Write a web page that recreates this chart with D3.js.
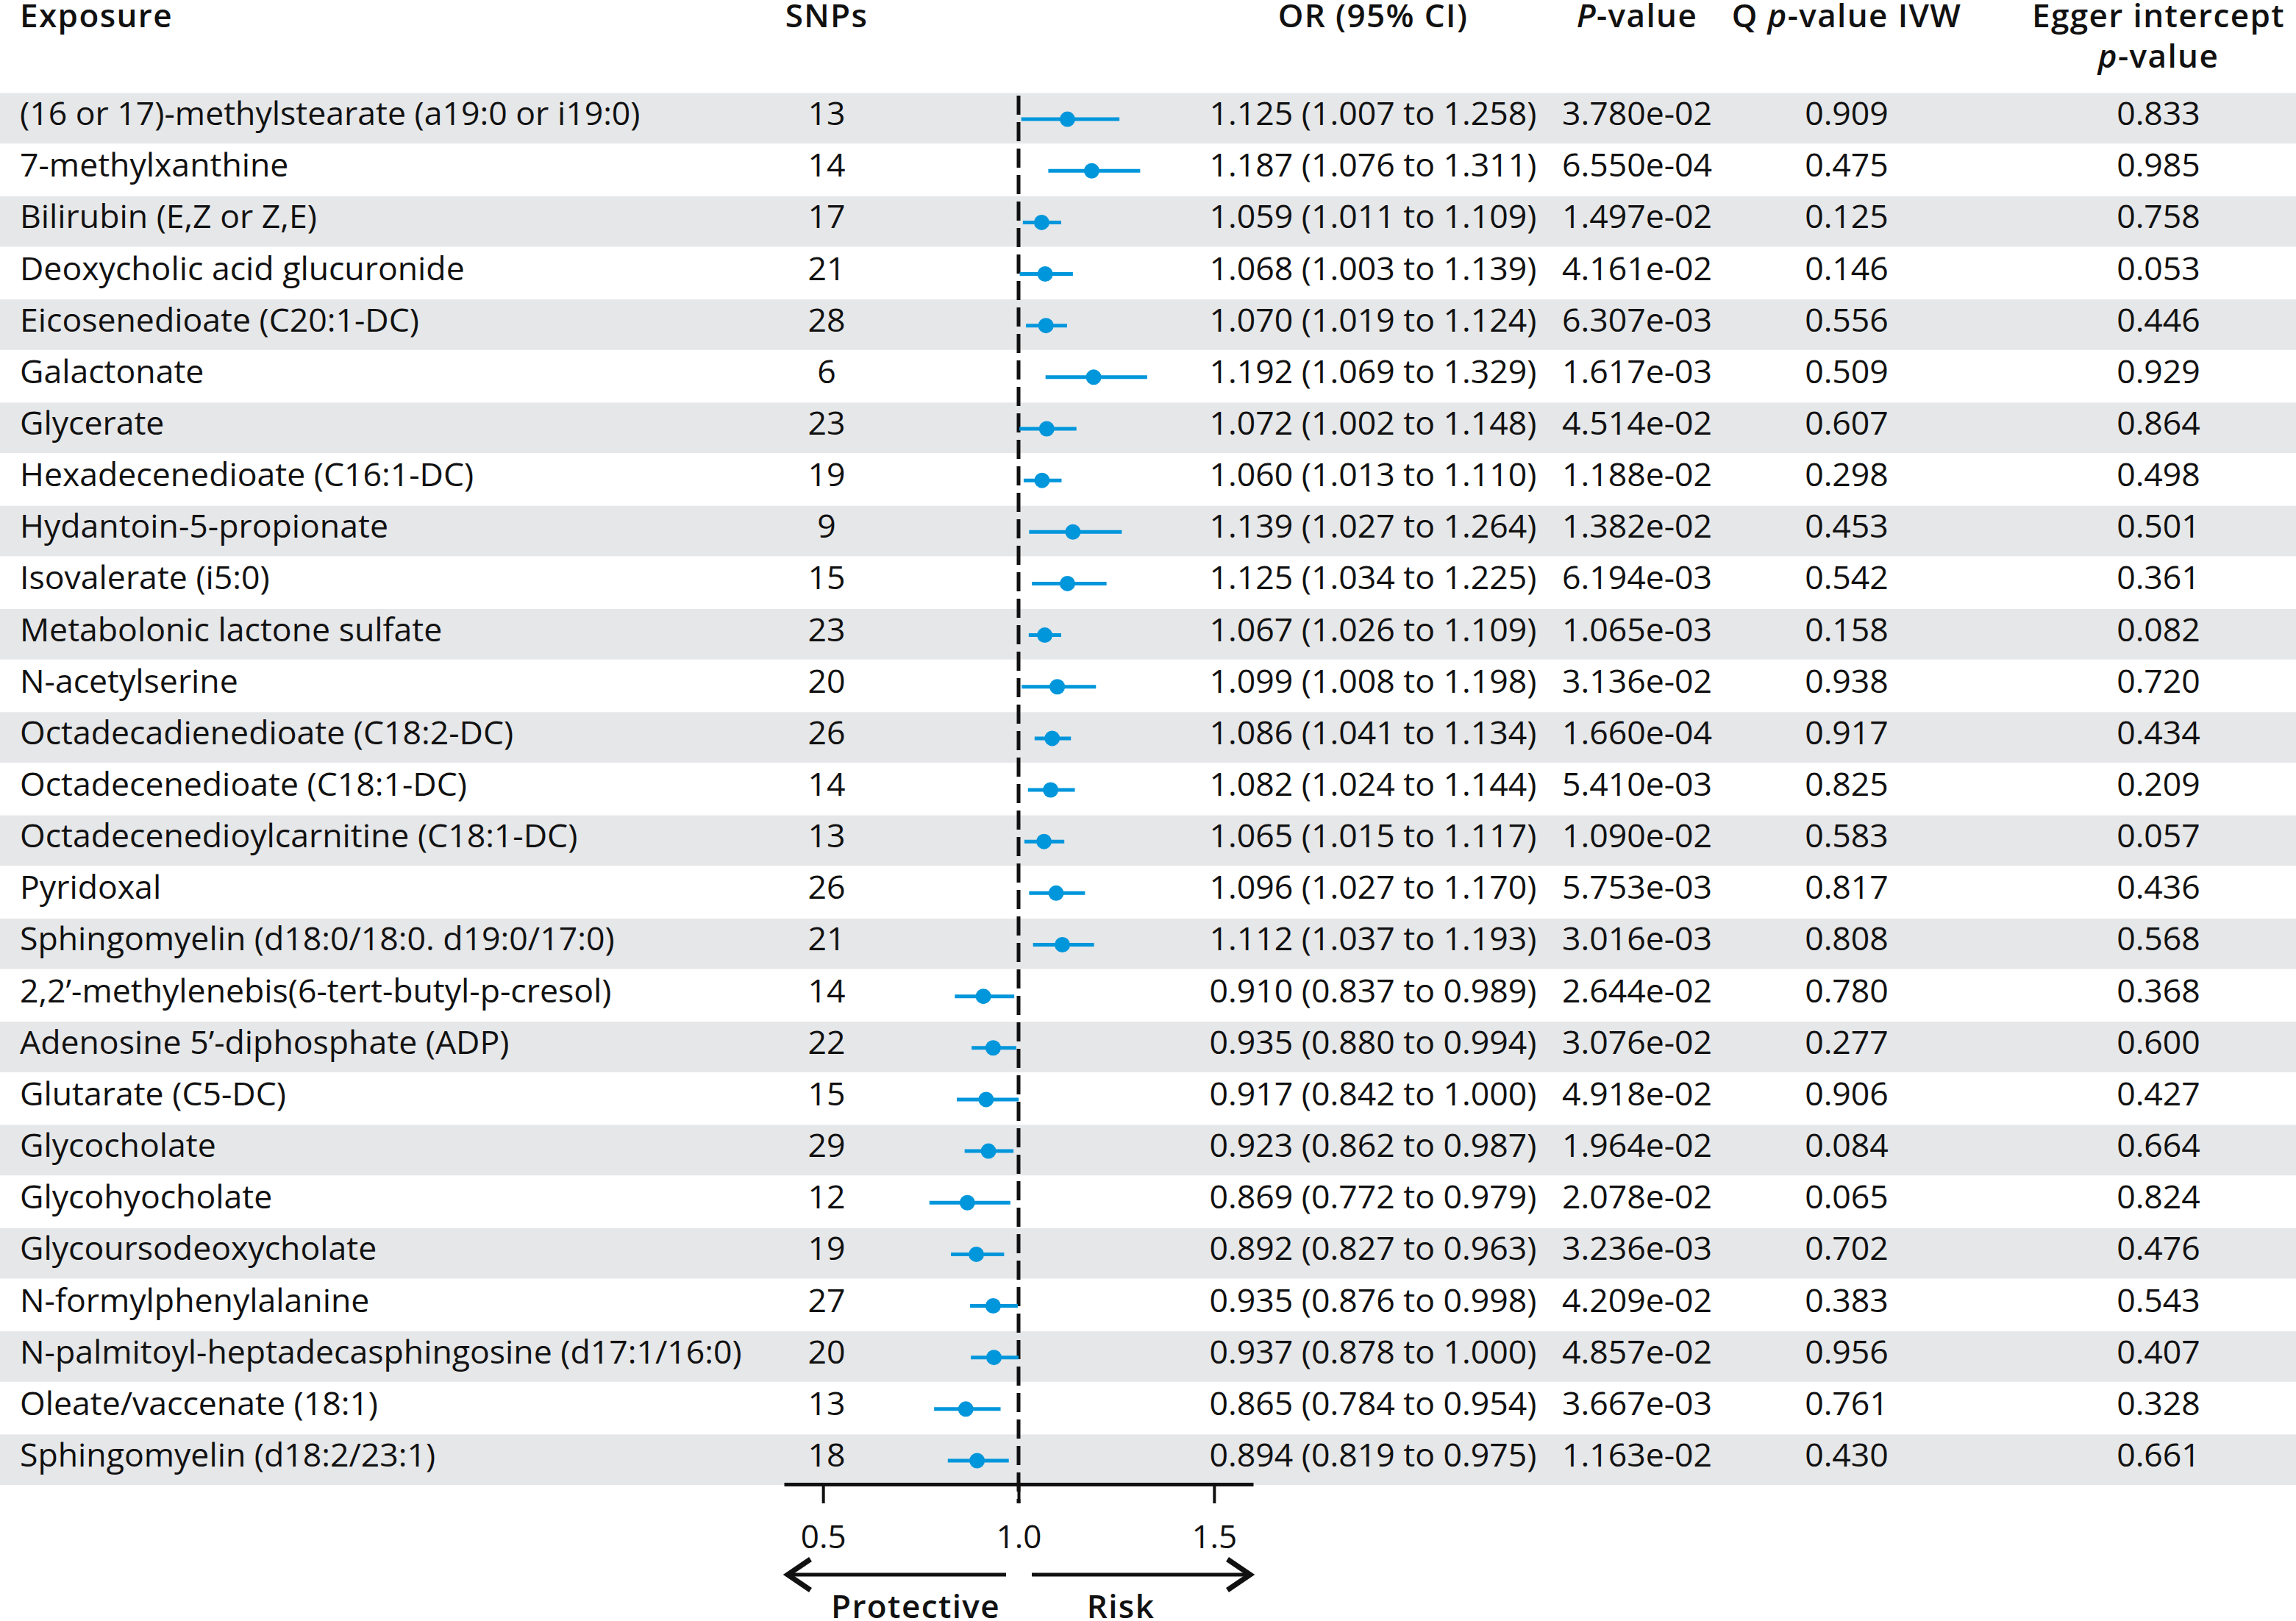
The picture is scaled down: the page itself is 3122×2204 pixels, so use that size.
<!DOCTYPE html>
<html>
<head>
<meta charset="utf-8">
<script src="https://cdn.jsdelivr.net/npm/d3@7/dist/d3.min.js"></script>
<style>
  body { margin: 0; background: #fff; }
  svg { display: block; font-family: "Open Sans", "Noto Sans", sans-serif; }
  .cell { font-size: 44.6px; fill: #111; }
  .head { font-size: 44px; font-weight: 600; letter-spacing: 1.4px; fill: #111; }
</style>
</head>
<body>
<svg id="chart" width="3122" height="2204"></svg>
<script>
// Table data, one entry per exposure (top to bottom)
const exposures = [
  "(16 or 17)-methylstearate (a19:0 or i19:0)", "7-methylxanthine", "Bilirubin (E,Z or Z,E)",
  "Deoxycholic acid glucuronide", "Eicosenedioate (C20:1-DC)", "Galactonate", "Glycerate",
  "Hexadecenedioate (C16:1-DC)", "Hydantoin-5-propionate", "Isovalerate (i5:0)",
  "Metabolonic lactone sulfate", "N-acetylserine", "Octadecadienedioate (C18:2-DC)",
  "Octadecenedioate (C18:1-DC)", "Octadecenedioylcarnitine (C18:1-DC)", "Pyridoxal",
  "Sphingomyelin (d18:0/18:0. d19:0/17:0)", "2,2\u2019-methylenebis(6-tert-butyl-p-cresol)",
  "Adenosine 5\u2019-diphosphate (ADP)", "Glutarate (C5-DC)", "Glycocholate", "Glycohyocholate",
  "Glycoursodeoxycholate", "N-formylphenylalanine", "N-palmitoyl-heptadecasphingosine (d17:1/16:0)",
  "Oleate/vaccenate (18:1)", "Sphingomyelin (d18:2/23:1)"
];
const snps = [13, 14, 17, 21, 28, 6, 23, 19, 9, 15, 23, 20, 26, 14, 13, 26, 21, 14, 22, 15, 29, 12, 19, 27, 20, 13, 18];
const orValues = [1.125, 1.187, 1.059, 1.068, 1.070, 1.192, 1.072, 1.060, 1.139, 1.125, 1.067, 1.099, 1.086, 1.082,
  1.065, 1.096, 1.112, 0.910, 0.935, 0.917, 0.923, 0.869, 0.892, 0.935, 0.937, 0.865, 0.894];
const ciLow = [1.007, 1.076, 1.011, 1.003, 1.019, 1.069, 1.002, 1.013, 1.027, 1.034, 1.026, 1.008, 1.041, 1.024,
  1.015, 1.027, 1.037, 0.837, 0.880, 0.842, 0.862, 0.772, 0.827, 0.876, 0.878, 0.784, 0.819];
const ciHigh = [1.258, 1.311, 1.109, 1.139, 1.124, 1.329, 1.148, 1.110, 1.264, 1.225, 1.109, 1.198, 1.134, 1.144,
  1.117, 1.170, 1.193, 0.989, 0.994, 1.000, 0.987, 0.979, 0.963, 0.998, 1.000, 0.954, 0.975];
const pValues = ["3.780e-02", "6.550e-04", "1.497e-02", "4.161e-02", "6.307e-03", "1.617e-03", "4.514e-02",
  "1.188e-02", "1.382e-02", "6.194e-03", "1.065e-03", "3.136e-02", "1.660e-04", "5.410e-03", "1.090e-02",
  "5.753e-03", "3.016e-03", "2.644e-02", "3.076e-02", "4.918e-02", "1.964e-02", "2.078e-02", "3.236e-03",
  "4.209e-02", "4.857e-02", "3.667e-03", "1.163e-02"];
const qIvw = ["0.909", "0.475", "0.125", "0.146", "0.556", "0.509", "0.607", "0.298", "0.453", "0.542", "0.158",
  "0.938", "0.917", "0.825", "0.583", "0.817", "0.808", "0.780", "0.277", "0.906", "0.084", "0.065", "0.702",
  "0.383", "0.956", "0.761", "0.430"];
const eggerP = ["0.833", "0.985", "0.758", "0.053", "0.446", "0.929", "0.864", "0.498", "0.501", "0.361", "0.082",
  "0.720", "0.434", "0.209", "0.057", "0.436", "0.568", "0.368", "0.600", "0.427", "0.664", "0.824", "0.476",
  "0.543", "0.407", "0.328", "0.661"];
const axisTicks = [0.5, 1.0, 1.5];

const W = 3122;
const BLUE = "#0096db";
const BAND = "#e6e7e9";

const rows = exposures.map((name, i) => ({
  name, snp: snps[i], or: orValues[i], lo: ciLow[i], hi: ciHigh[i],
  p: pValues[i], q: qIvw[i], egger: eggerP[i], idx: i
}));

const svg = d3.select("#chart");

const x = d3.scaleLinear().domain([0.4, 1.6]).range([1066, 1704]);
const y = d3.scaleBand().domain(exposures).range([126, 126 + 70.15 * exposures.length]);
const mid = d => y(d.name) + y.bandwidth() / 2;
const fmt3 = d3.format(".3f");

// column centres
const col = { name: 27, snp: 1124, or: 1867, p: 2226, q: 2511, egger: 2935 };

// alternating row bands
svg.append("g").selectAll("rect")
  .data(rows.filter(d => d.idx % 2 === 0))
  .join("rect")
  .attr("x", 0).attr("width", W)
  .attr("y", d => y(d.name) + 0.5)
  .attr("height", y.bandwidth() - 1.5)
  .attr("fill", BAND);

// header
const head = svg.append("g").attr("class", "head");
head.append("text").attr("x", col.name).attr("y", 37).text("Exposure");
head.append("text").attr("x", col.snp).attr("y", 37).attr("text-anchor", "middle").text("SNPs");
head.append("text").attr("x", col.or).attr("y", 37).attr("text-anchor", "middle").text("OR (95% CI)");
const ph = head.append("text").attr("x", col.p).attr("y", 37).attr("text-anchor", "middle");
ph.append("tspan").attr("font-style", "italic").text("P");
ph.append("tspan").text("-value");
const qh = head.append("text").attr("x", col.q).attr("y", 37).attr("text-anchor", "middle");
qh.append("tspan").text("Q ");
qh.append("tspan").attr("font-style", "italic").text("p");
qh.append("tspan").text("-value IVW");
head.append("text").attr("x", col.egger).attr("y", 37).attr("text-anchor", "middle").text("Egger intercept");
const eh = head.append("text").attr("x", col.egger).attr("y", 92).attr("text-anchor", "middle");
eh.append("tspan").attr("font-style", "italic").text("p");
eh.append("tspan").text("-value");

// table cells
const cells = svg.append("g").attr("class", "cell").selectAll("g")
  .data(rows).join("g")
  .attr("transform", d => `translate(0,${mid(d) + 9})`);
cells.append("text").attr("x", col.name).text(d => d.name);
cells.append("text").attr("x", col.snp).attr("text-anchor", "middle").text(d => d.snp);
cells.append("text").attr("x", col.or).attr("text-anchor", "middle")
  .text(d => `${fmt3(d.or)} (${fmt3(d.lo)} to ${fmt3(d.hi)})`);
cells.append("text").attr("x", col.p).attr("text-anchor", "middle").text(d => d.p);
cells.append("text").attr("x", col.q).attr("text-anchor", "middle").text(d => d.q);
cells.append("text").attr("x", col.egger).attr("text-anchor", "middle").text(d => d.egger);

// x axis
const axisY = y.range()[1] - 2;
const axis = svg.append("g")
  .attr("transform", `translate(0,${axisY})`)
  .call(d3.axisBottom(x).tickValues(axisTicks).tickFormat(d3.format(".1f"))
    .tickSize(26).tickSizeOuter(0).tickPadding(30));
axis.select(".domain").attr("stroke", "#111").attr("stroke-width", 5);
axis.selectAll(".tick line").attr("stroke", "#111").attr("stroke-width", 4);
axis.selectAll(".tick text").attr("font-size", 44).attr("fill", "#111")
  .attr("font-family", "\"Open Sans\", \"Noto Sans\", sans-serif");

// reference line at OR = 1
svg.append("line")
  .attr("x1", x(1)).attr("x2", x(1))
  .attr("y1", y.range()[0] + 4).attr("y2", axisY + 26)
  .attr("stroke", "#111").attr("stroke-width", 5)
  .attr("stroke-dasharray", "26,10");

// CI lines and points
const marks = svg.append("g").selectAll("g").data(rows).join("g");
marks.append("line")
  .attr("x1", d => x(d.lo)).attr("x2", d => x(d.hi))
  .attr("y1", d => mid(d) + 1).attr("y2", d => mid(d) + 1)
  .attr("stroke", BLUE).attr("stroke-width", 5);
marks.append("circle")
  .attr("cx", d => x(d.or)).attr("cy", d => mid(d) + 1)
  .attr("r", 10.5).attr("fill", BLUE);

// direction arrows
const arrowY = 2141;
const [xl, xr] = x.range();
const arrows = svg.append("g").attr("fill", "none").attr("stroke", "#111");
arrows.append("line").attr("x1", xl + 3).attr("x2", x(1) - 17)
  .attr("y1", arrowY).attr("y2", arrowY).attr("stroke-width", 5);
arrows.append("line").attr("x1", x(1) + 18).attr("x2", xr - 2)
  .attr("y1", arrowY).attr("y2", arrowY).attr("stroke-width", 5);
arrows.append("path")
  .attr("d", `M${xl + 36},${arrowY - 21}L${xl + 5},${arrowY}L${xl + 36},${arrowY + 21}`)
  .attr("stroke-width", 7).attr("stroke-linejoin", "miter");
arrows.append("path")
  .attr("d", `M${xr - 35},${arrowY - 21}L${xr - 4},${arrowY}L${xr - 35},${arrowY + 21}`)
  .attr("stroke-width", 7).attr("stroke-linejoin", "miter");

svg.append("text").attr("class", "head").attr("x", 1245).attr("y", 2200)
  .attr("text-anchor", "middle").text("Protective");
svg.append("text").attr("class", "head").attr("x", 1524).attr("y", 2200)
  .attr("text-anchor", "middle").text("Risk");
</script>
</body>
</html>
